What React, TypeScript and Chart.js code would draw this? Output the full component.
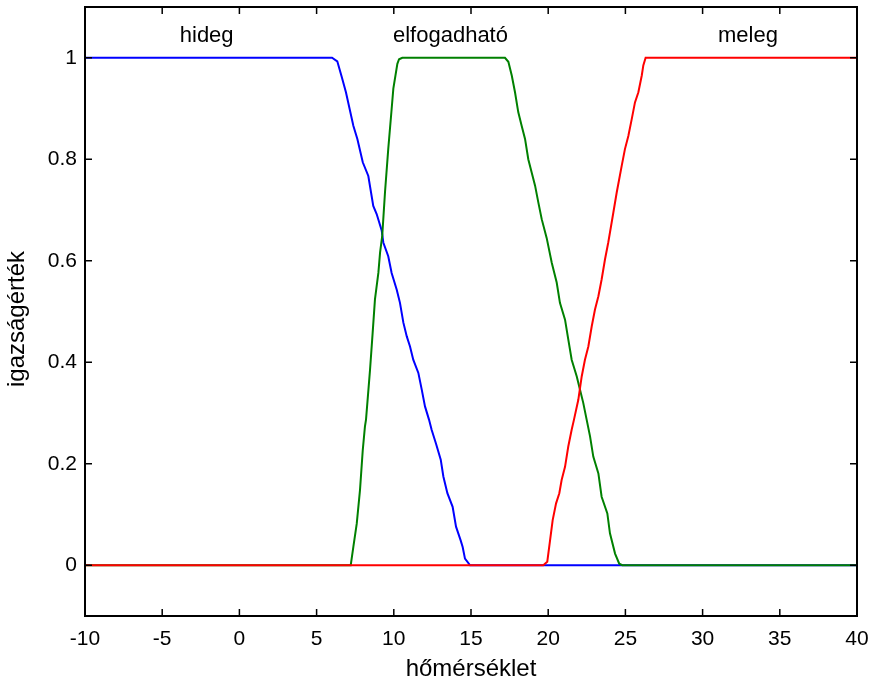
import React, { useEffect, useRef } from 'react';
import { Chart, registerables } from 'chart.js';

Chart.register(...registerables);

// ---- data ----
const hidegX = [-10, 6.0, 6.34, 6.63, 6.9, 7.38, 7.64, 7.99, 8.35, 8.67, 8.89, 9.22, 9.32, 9.64, 9.86, 10.19, 10.4, 10.62, 10.84, 11.05, 11.26, 11.59, 11.81, 12.02, 12.28, 12.45, 12.73, 13.04, 13.21, 13.47, 13.81, 14.03, 14.33, 14.46, 14.61, 14.94, 40];
const hidegY = [1, 1, 0.993, 0.962, 0.932, 0.866, 0.84, 0.794, 0.767, 0.708, 0.692, 0.659, 0.636, 0.609, 0.576, 0.543, 0.517, 0.478, 0.451, 0.431, 0.405, 0.379, 0.346, 0.313, 0.287, 0.267, 0.24, 0.208, 0.175, 0.142, 0.115, 0.076, 0.049, 0.036, 0.013, 0, 0];

const elfogX = [-10, 7.21, 7.38, 7.6, 7.81, 7.99, 8.13, 8.2, 8.46, 8.63, 8.78, 9.0, 9.11, 9.25, 9.43, 9.64, 9.86, 9.97, 10.23, 10.34, 10.55, 17.2, 17.42, 17.64, 17.85, 18.06, 18.28, 18.5, 18.71, 18.93, 19.15, 19.36, 19.58, 19.9, 20.23, 20.55, 20.76, 21.09, 21.3, 21.52, 21.85, 22.06, 22.27, 22.49, 22.71, 22.92, 23.25, 23.46, 23.83, 24.0, 24.33, 24.6, 24.8, 40];
const elfogY = [0, 0, 0.036, 0.082, 0.148, 0.227, 0.273, 0.287, 0.385, 0.458, 0.524, 0.576, 0.616, 0.649, 0.735, 0.82, 0.899, 0.939, 0.988, 0.997, 1, 1, 0.992, 0.965, 0.932, 0.893, 0.866, 0.84, 0.8, 0.774, 0.748, 0.715, 0.682, 0.645, 0.596, 0.557, 0.517, 0.484, 0.445, 0.405, 0.372, 0.346, 0.32, 0.287, 0.254, 0.214, 0.181, 0.135, 0.102, 0.063, 0.023, 0.003, 0, 0];

const melegX = [-10, 19.68, 19.94, 20.12, 20.29, 20.51, 20.72, 20.87, 21.09, 21.3, 21.52, 21.67, 21.95, 22.17, 22.38, 22.6, 22.82, 23.03, 23.25, 23.46, 23.68, 23.89, 24.22, 24.44, 24.76, 24.97, 25.19, 25.41, 25.62, 25.84, 26.06, 26.16, 26.31, 40];
const melegY = [0, 0, 0.007, 0.049, 0.089, 0.122, 0.142, 0.168, 0.194, 0.234, 0.267, 0.287, 0.326, 0.372, 0.405, 0.431, 0.471, 0.504, 0.53, 0.563, 0.603, 0.636, 0.695, 0.735, 0.787, 0.82, 0.846, 0.879, 0.912, 0.932, 0.965, 0.985, 1, 1];

const xTicks = [-10, -5, 0, 5, 10, 15, 20, 25, 30, 35, 40];
const yTicks = [0, 0.2, 0.4, 0.6, 0.8, 1];
const yTickLabels = ['0', '0.2', '0.4', '0.6', '0.8', '1'];

const curveLabels = ['hideg', 'elfogadható', 'meleg'];
const curveLabelX = [-2.12, 13.67, 32.94];
const curveLabelY = 1.031;

const xTitle = 'hőmérséklet';
const yTitle = 'igazságérték';

const FONT = '"Liberation Sans", Helvetica, Arial, sans-serif';

const toPoints = (xs: number[], ys: number[]) => xs.map((x, i) => ({ x, y: ys[i] }));

const framePlugin = {
  id: 'frame',
  afterDraw(chart: any) {
    const { ctx, chartArea: a, scales } = chart;
    ctx.save();
    ctx.strokeStyle = '#000';
    ctx.lineWidth = 2;
    ctx.strokeRect(a.left, a.top, a.right - a.left, a.bottom - a.top);
    ctx.lineWidth = 1.5;
    const tl = 7;
    ctx.beginPath();
    for (const v of xTicks) {
      const px = scales.x.getPixelForValue(v);
      ctx.moveTo(px, a.bottom);
      ctx.lineTo(px, a.bottom - tl);
      ctx.moveTo(px, a.top);
      ctx.lineTo(px, a.top + tl);
    }
    for (const v of yTicks) {
      const py = scales.y.getPixelForValue(v);
      ctx.moveTo(a.left, py);
      ctx.lineTo(a.left + tl, py);
      ctx.moveTo(a.right, py);
      ctx.lineTo(a.right - tl, py);
    }
    ctx.stroke();

    ctx.fillStyle = '#000';
    ctx.font = `22px ${FONT}`;
    ctx.textAlign = 'center';
    ctx.textBaseline = 'alphabetic';
    curveLabels.forEach((t, i) => {
      ctx.fillText(t, scales.x.getPixelForValue(curveLabelX[i]), scales.y.getPixelForValue(curveLabelY));
    });

    ctx.font = `24px ${FONT}`;
    ctx.fillText(xTitle, (a.left + a.right) / 2, 676);
    ctx.translate(24, 319);
    ctx.rotate(-Math.PI / 2);
    ctx.fillText(yTitle, 0, 0);
    ctx.restore();
  },
};

export default function App() {
  const ref = useRef<HTMLCanvasElement | null>(null);

  useEffect(() => {
    if (!ref.current) return;
    const chart = new Chart(ref.current, {
      type: 'line',
      data: {
        datasets: [
          { label: 'hideg', data: toPoints(hidegX, hidegY), borderColor: '#0000ff', borderWidth: 2, pointRadius: 0, tension: 0, fill: false, order: 3 },
          { label: 'elfogadható', data: toPoints(elfogX, elfogY), borderColor: '#008000', borderWidth: 2, pointRadius: 0, tension: 0, fill: false, order: 2 },
          { label: 'meleg', data: toPoints(melegX, melegY), borderColor: '#ff0000', borderWidth: 2, pointRadius: 0, tension: 0, fill: false, order: 1 },
        ],
      },
      options: {
        animation: false,
        responsive: false,
        maintainAspectRatio: false,
        events: [],
        layout: { padding: { left: 0, top: 7, right: 16, bottom: 0 } },
        plugins: { legend: { display: false }, tooltip: { enabled: false }, title: { display: false } },
        scales: {
          x: {
            type: 'linear',
            min: -10,
            max: 40,
            grid: { display: false, drawTicks: false },
            border: { display: false },
            afterBuildTicks: (axis: any) => { axis.ticks = xTicks.map((v) => ({ value: v })); },
            afterFit: (s: any) => { s.height = 66; s.paddingLeft = 0; s.paddingRight = 0; s.paddingTop = 0; s.paddingBottom = 0; },
            ticks: {
              padding: 11,
              color: '#000',
              font: { family: FONT, size: 21 },
              maxRotation: 0,
              autoSkip: false,
              callback: (v: any) => String(v),
            },
          },
          y: {
            type: 'linear',
            min: -0.1,
            max: 1.1,
            grid: { display: false, drawTicks: false },
            border: { display: false },
            afterBuildTicks: (axis: any) => { axis.ticks = yTicks.map((v) => ({ value: v })); },
            afterFit: (s: any) => { s.width = 85; s.paddingLeft = 0; s.paddingRight = 0; s.paddingTop = 0; s.paddingBottom = 0; },
            ticks: {
              padding: 8,
              color: '#000',
              font: { family: FONT, size: 21 },
              autoSkip: false,
              callback: (v: any) => {
                const i = yTicks.findIndex((t) => Math.abs(t - v) < 1e-6);
                return i >= 0 ? yTickLabels[i] : '';
              },
            },
          },
        },
      },
      plugins: [framePlugin],
    });
    return () => chart.destroy();
  }, []);

  return (
    <div style={{ position: 'fixed', left: 0, top: 0, width: 873, height: 682, background: '#fff' }}>
      <canvas ref={ref} width={873} height={682} style={{ display: 'block', width: 873, height: 682 }} />
    </div>
  );
}
